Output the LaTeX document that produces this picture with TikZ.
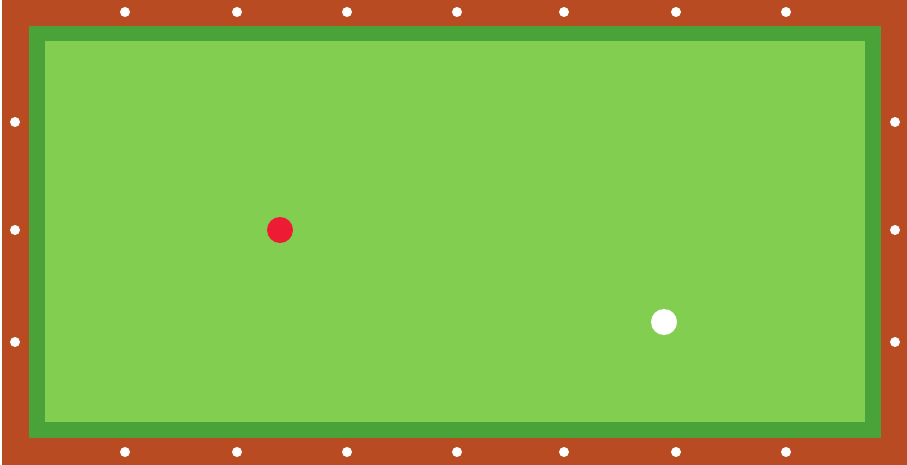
\documentclass[tikz,border=0pt]{standalone}
\usepackage{tikz}
\usetikzlibrary{positioning}
\definecolor{rail}{RGB}{185,75,35}
\definecolor{cushion}{RGB}{74,163,56}
\definecolor{felt}{RGB}{130,206,80}
\definecolor{redball}{RGB}{237,27,52}
\begin{document}
\begin{tikzpicture}[x=1pt, y=-1pt,
    diamond dot/.style={circle, fill=white, inner sep=0pt, minimum size=10pt},
    ball/.style={circle, inner sep=0pt, minimum size=26pt}]
    \useasboundingbox (0,0) rectangle (907,465);
    \fill[rail] (2,0) rectangle (907,465);
    \fill[cushion] (29,26) rectangle (881,438);
    \fill[felt] (45,41) rectangle (865,422);
    % diamonds on the rails
    \foreach \x [count=\i] in {125,237,347,457,564,676,786} {
      \node[diamond dot] (top\i) at (\x,12) {};
      \node[diamond dot] (bottom\i) at (\x,452) {};
    }
    \foreach \y [count=\i] in {122,230,342} {
      \node[diamond dot] (left\i) at (15,\y) {};
      \node[diamond dot] (right\i) at (895,\y) {};
    }
    % balls
    \node[ball, fill=redball] (object) at (280,230) {};
    \node[ball, fill=white] (cue) at (664,322) {};
  \end{tikzpicture}
\end{document}
